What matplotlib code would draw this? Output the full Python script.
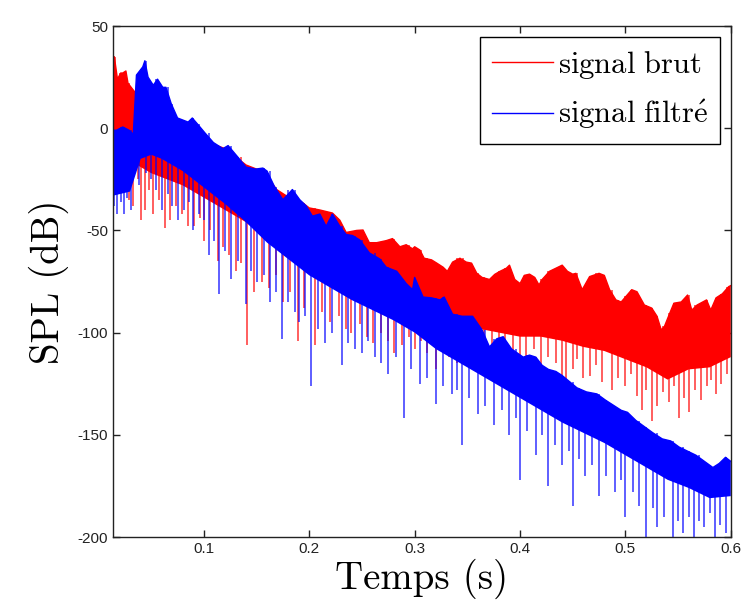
import matplotlib
matplotlib.use("Agg")
import matplotlib.pyplot as plt
from matplotlib.ticker import FuncFormatter

# ---- signal brut (red) ----
# upper edge of the trace
red_top_t = [0.014, 0.015, 0.018, 0.021, 0.023, 0.026, 0.028, 0.031, 0.034, 0.04, 0.05,
             0.06, 0.07, 0.08, 0.09, 0.10, 0.11, 0.12, 0.13, 0.14, 0.15, 0.162, 0.169,
             0.178, 0.186, 0.194, 0.20, 0.21, 0.222, 0.229, 0.235, 0.245, 0.251, 0.257,
             0.264, 0.273, 0.279, 0.286, 0.292, 0.298, 0.300, 0.305, 0.309, 0.316, 0.321,
             0.327, 0.331, 0.336, 0.343, 0.349, 0.354, 0.359, 0.364, 0.371, 0.376, 0.381,
             0.387, 0.390, 0.395, 0.400, 0.404, 0.409, 0.414, 0.418, 0.421, 0.428, 0.434,
             0.440, 0.445, 0.450, 0.453, 0.459, 0.466, 0.475, 0.480, 0.485, 0.491, 0.496,
             0.501, 0.506, 0.511, 0.518, 0.525, 0.530, 0.534, 0.537, 0.542, 0.546, 0.553,
             0.559, 0.563, 0.568, 0.577, 0.581, 0.586, 0.592, 0.598, 0.600]
red_top = [24, 35, 24, 27, 27, 28, 22, 20, 18, 15, 11,
           7, 3, 0, -2, -5, -8, -10, -14, -18, -20, -25, -30,
           -33, -34, -36.6, -39, -40, -41.5, -45, -51, -50, -49.8, -56,
           -56, -55, -54, -58, -57, -59, -58, -59.6, -63.6, -64.4, -66,
           -68, -70, -65.5, -63.6, -65.5, -66, -71, -73, -74, -71.5, -70,
           -68.5, -67, -74, -76, -72, -71.4, -73, -76.7, -74, -70, -68.5,
           -67, -70, -71.4, -71, -79, -72.6, -71, -72, -79, -84, -85,
           -82, -79, -80, -86.5, -88, -92, -98.7, -97, -90.6, -85.6, -85,
           -81.6, -89, -86.5, -84, -89, -83, -81, -77.5, -77]
# lower edge of the dense part
red_core_t = [0.014, 0.03, 0.05, 0.08, 0.10, 0.12, 0.14, 0.16, 0.18, 0.20, 0.22, 0.24,
              0.26, 0.28, 0.30, 0.32, 0.34, 0.36, 0.38, 0.40, 0.42, 0.44, 0.46, 0.48,
              0.50, 0.52, 0.54, 0.56, 0.58, 0.60]
red_core = [-14, -16, -22, -28, -34, -40, -46, -54, -60, -66, -72, -76,
            -80, -84, -88, -92, -95, -98, -100, -102, -102, -104, -107, -109,
            -113, -117, -123, -118, -117, -112]
# deep dips
red_spike_t = [0.016, 0.020, 0.024, 0.029, 0.033, 0.037, 0.040, 0.044, 0.048, 0.052,
               0.057, 0.063, 0.068, 0.074, 0.079, 0.085, 0.091, 0.096, 0.100, 0.106,
               0.113, 0.118, 0.124, 0.130, 0.135, 0.141, 0.148, 0.155, 0.162, 0.168,
               0.175, 0.182, 0.189, 0.195, 0.205, 0.212, 0.220, 0.228, 0.235, 0.240,
               0.248, 0.255, 0.260, 0.268, 0.275, 0.280, 0.288, 0.295, 0.300, 0.306,
               0.312, 0.320, 0.326, 0.333, 0.340, 0.346, 0.353, 0.360, 0.366, 0.373,
               0.380, 0.386, 0.393, 0.400, 0.406, 0.413, 0.420, 0.427, 0.434, 0.440,
               0.444, 0.450, 0.454, 0.460, 0.466, 0.472, 0.478, 0.487, 0.493, 0.500,
               0.505, 0.511, 0.516, 0.520, 0.525, 0.530, 0.536, 0.541, 0.546, 0.551,
               0.556, 0.560, 0.566, 0.572, 0.577, 0.581, 0.586, 0.591, 0.596]
red_spike_v = [-30, -22, -28, -35, -38, -25, -45, -40, -30, -42,
               -35, -49, -45, -38, -42, -48, -48, -44, -55, -50,
               -65, -58, -62, -70, -66, -106, -80, -75, -78, -72,
               -85, -80, -104, -88, -106, -90, -95, -92, -98, -100,
               -96, -102, -105, -100, -104, -110, -106, -102, -108, -104,
               -110, -118, -106, -112, -115, -108, -112, -117, -110, -106,
               -115, -110, -112, -120, -112, -108, -118, -112, -115, -124,
               -128, -118, -113, -122, -121, -116, -124, -128, -122, -126,
               -120, -131, -138, -128, -143, -136, -129, -134, -126, -142,
               -132, -139, -128, -133, -126, -123, -130, -125, -120]

# ---- signal filtré (blue) ----
blue_top_t = [0.014, 0.017, 0.023, 0.029, 0.033, 0.036, 0.042, 0.044, 0.047, 0.052, 0.056,
              0.061, 0.064, 0.069, 0.075, 0.080, 0.085, 0.089, 0.094, 0.101, 0.109, 0.118,
              0.123, 0.132, 0.140, 0.149, 0.156, 0.160, 0.167, 0.175, 0.184, 0.191, 0.197,
              0.203, 0.210, 0.216, 0.222, 0.229, 0.235, 0.241, 0.248, 0.257, 0.267, 0.273,
              0.283, 0.292, 0.298, 0.300, 0.308, 0.316, 0.324, 0.328, 0.336, 0.345, 0.355,
              0.364, 0.371, 0.378, 0.384, 0.392, 0.403, 0.409, 0.415, 0.421, 0.427, 0.434,
              0.440, 0.447, 0.454, 0.463, 0.473, 0.481, 0.490, 0.496, 0.502, 0.510, 0.518,
              0.526, 0.535, 0.543, 0.551, 0.559, 0.567, 0.575, 0.583, 0.589, 0.595, 0.600]
blue_top = [-1, -1, 0.6, -1, -3, 26, 30, 33, 25, 21, 24,
            20, 20, 12, 5, 4, 3, 5, 2, -2.3, -7, -10,
            -8.5, -14, -19, -20, -19.5, -21, -28.6, -35, -30, -35, -38,
            -43, -42, -48, -42, -48, -52, -52.5, -54.7, -61, -64, -68,
            -70, -76, -79, -73, -82.6, -83, -84, -82.6, -91, -92, -92,
            -98.7, -107, -103, -102, -108, -112, -111, -112, -116, -118, -119,
            -121, -124, -127, -129, -130, -133, -136, -138, -139, -143, -146,
            -149, -152, -153, -156, -158, -160, -163, -166, -164, -161, -163]
blue_core_t = [0.014, 0.03, 0.04, 0.05, 0.06, 0.08, 0.10, 0.12, 0.14, 0.16, 0.18, 0.20,
               0.22, 0.24, 0.26, 0.28, 0.30, 0.32, 0.34, 0.36, 0.38, 0.40, 0.42, 0.44,
               0.46, 0.48, 0.50, 0.52, 0.54, 0.56, 0.58, 0.60]
blue_core = [-33, -31, -15, -13, -15, -21, -29, -37, -46, -56, -64, -72,
             -78, -84, -89, -94, -100, -108, -114, -120, -126, -132, -138, -144,
             -149, -154, -160, -166, -172, -176, -181, -180]
blue_spike_t = [0.015, 0.018, 0.021, 0.024, 0.027, 0.031, 0.038, 0.045, 0.050, 0.055,
                0.060, 0.066, 0.070, 0.075, 0.081, 0.086, 0.090, 0.095, 0.100, 0.105,
                0.110, 0.114, 0.120, 0.126, 0.132, 0.140, 0.145, 0.150, 0.157, 0.163,
                0.168, 0.174, 0.180, 0.186, 0.190, 0.196, 0.202, 0.208, 0.215, 0.222,
                0.231, 0.237, 0.243, 0.250, 0.256, 0.262, 0.268, 0.275, 0.282, 0.290,
                0.297, 0.305, 0.312, 0.320, 0.327, 0.335, 0.340, 0.345, 0.352, 0.360,
                0.367, 0.375, 0.383, 0.390, 0.396, 0.400, 0.407, 0.415, 0.421, 0.427,
                0.433, 0.440, 0.446, 0.450, 0.456, 0.462, 0.468, 0.475, 0.482, 0.490,
                0.496, 0.500, 0.507, 0.513, 0.520, 0.526, 0.530, 0.537, 0.545, 0.550,
                0.555, 0.560, 0.565, 0.570, 0.575, 0.580, 0.585, 0.590, 0.595]
blue_spike_v = [-38, -42, -36, -42, -34, -40, -28, -22, -25, -30,
                -40, -32, -38, -45, -40, -36, -50, -42, -45, -62,
                -55, -81, -60, -74, -65, -86, -70, -75, -72, -85,
                -80, -103, -85, -90, -95, -92, -126, -98, -105, -100,
                -116, -105, -108, -110, -104, -112, -115, -120, -112, -142,
                -118, -125, -122, -135, -126, -130, -128, -155, -132, -140,
                -136, -145, -138, -150, -142, -172, -148, -160, -150, -175,
                -155, -165, -158, -185, -162, -170, -165, -180, -170, -178,
                -172, -190, -178, -185, -200, -186, -195, -190, -200, -192,
                -198, -190, -200, -192, -195, -188, -200, -194, -198]

xticks = [0.1, 0.2, 0.3, 0.4, 0.5, 0.6]
yticks = [50, 0, -50, -100, -150, -200]

plt.rcParams['mathtext.fontset'] = 'cm'
serif = ['cmr10', 'DejaVu Serif']

fig = plt.figure(figsize=(7.48, 6.12), dpi=100)
ax = fig.add_axes([0.151, 0.1225, 0.826, 0.835])


def draw(tt, top, tc, core, st, sv, col, label, z):
    # dense band: upper edge forward, lower edge back
    ax.fill(tt + tc[::-1], top + core[::-1], color=col, lw=0, zorder=z)
    ax.plot(tt, top, color=col, lw=1.0, label=label, zorder=z)
    # each dip hangs from the nearest point of the upper edge
    start = []
    for s in st:
        i = min(range(len(tt)), key=lambda k: abs(tt[k] - s))
        start.append(top[i])
    ax.vlines(st, sv, start, color=col, lw=1.1, alpha=0.8, zorder=z)


draw(red_top_t, red_top, red_core_t, red_core, red_spike_t, red_spike_v,
     (1, 0, 0), r'$\mathrm{signal\ brut}$', 2)
draw(blue_top_t, blue_top, blue_core_t, blue_core, blue_spike_t, blue_spike_v,
     (0, 0, 1), r'$\mathrm{signal\ filtr\acute{e}}$', 3)

ax.set_xlim(0.0137, 0.6)
ax.set_ylim(-200, 50)
ax.set_xticks(xticks)
ax.set_yticks(yticks)
ax.xaxis.set_major_formatter(FuncFormatter(lambda v, p: '%g' % v))
ax.yaxis.set_major_formatter(FuncFormatter(lambda v, p: '%d' % v))
ax.tick_params(direction='in', top=True, right=True, length=5, width=1,
               labelsize=11, colors='#222222')
for lab in ax.get_xticklabels() + ax.get_yticklabels():
    lab.set_family('Liberation Sans')
for s in ax.spines.values():
    s.set_color('#222222')
    s.set_linewidth(1.0)
    s.set_zorder(5)

ax.set_xlabel('Temps (s)', family=serif, fontsize=28, labelpad=2)
ax.set_ylabel('SPL (dB)', family=serif, fontsize=28, labelpad=6)

leg = ax.legend(loc='upper right', prop={'size': 22},
                fancybox=False, edgecolor='black', framealpha=1,
                handlelength=2.0, handletextpad=0.15, borderaxespad=0.35,
                borderpad=0.4, labelspacing=0.55)
leg.get_frame().set_linewidth(1.0)
leg.set_zorder(10)

fig.savefig('out.png', dpi=100)
